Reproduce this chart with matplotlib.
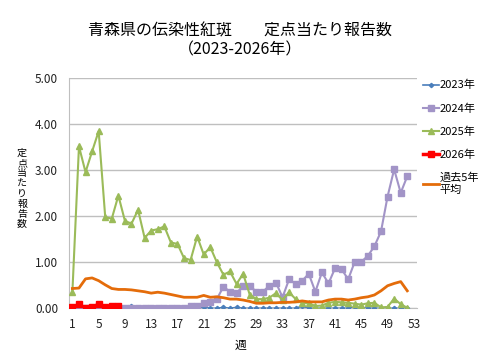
import matplotlib
matplotlib.use("Agg")
import matplotlib.pyplot as plt
import numpy as np

plt.rcParams['font.family'] = ['Noto Sans CJK JP', 'DejaVu Sans']

weeks = list(range(1, 53))

y2023 = [0.00, 0.00, 0.00, 0.00, 0.00, 0.00, 0.00, 0.00, 0.00, 0.05,
         0.00, 0.00, 0.00, 0.00, 0.00, 0.00, 0.00, 0.00, 0.00, 0.00,
         0.02, 0.00, 0.00, 0.02, 0.00, 0.02, 0.00, 0.00, 0.00, 0.00,
         0.00, 0.00, 0.00, 0.00, 0.00, 0.05, 0.00, 0.00, 0.00, 0.00,
         0.00, 0.00, 0.00, 0.02, 0.02, 0.00, 0.00, 0.00, 0.00, 0.00,
         0.00, 0.00]

y2024 = [0.00, 0.00, 0.00, 0.00, 0.00, 0.00, 0.00, 0.00, 0.00, 0.00,
         0.00, 0.00, 0.00, 0.00, 0.00, 0.00, 0.00, 0.00, 0.05, 0.06,
         0.12, 0.14, 0.20, 0.47, 0.36, 0.33, 0.49, 0.49, 0.36, 0.36,
         0.49, 0.56, 0.24, 0.63, 0.53, 0.60, 0.75, 0.36, 0.78, 0.54,
         0.87, 0.85, 0.63, 1.01, 1.01, 1.14, 1.35, 1.67, 2.43, 3.02,
         2.51, 2.87]

y2025 = [0.36, 3.52, 2.96, 3.41, 3.85, 1.98, 1.95, 2.45, 1.90, 1.84,
         2.14, 1.53, 1.69, 1.72, 1.78, 1.43, 1.40, 1.09, 1.05, 1.56,
         1.17, 1.33, 1.00, 0.73, 0.80, 0.53, 0.75, 0.30, 0.20, 0.20,
         0.23, 0.33, 0.18, 0.35, 0.20, 0.12, 0.11, 0.05, 0.06, 0.12,
         0.14, 0.13, 0.12, 0.10, 0.08, 0.11, 0.12, 0.02, 0.03, 0.21,
         0.09, 0.01]

weeks2026 = [1, 2, 3, 4, 5, 6, 7, 8]
y2026 = [0.02, 0.09, 0.00, 0.02, 0.09, 0.02, 0.05, 0.04]

avg5 = [0.43, 0.44, 0.64, 0.66, 0.60, 0.51, 0.43, 0.41, 0.41, 0.40,
        0.38, 0.36, 0.33, 0.35, 0.33, 0.30, 0.27, 0.24, 0.24, 0.24,
        0.28, 0.24, 0.25, 0.23, 0.20, 0.20, 0.18, 0.15, 0.11, 0.11,
        0.12, 0.12, 0.13, 0.13, 0.14, 0.16, 0.14, 0.14, 0.14, 0.18,
        0.20, 0.20, 0.18, 0.20, 0.23, 0.25, 0.29, 0.38, 0.49, 0.54,
        0.58, 0.38]

xticks = list(range(1, 54, 4))
yticks = [0, 1, 2, 3, 4, 5]

fig = plt.figure(figsize=(4.8, 3.6), dpi=100)
ax = fig.add_axes([0.144, 0.1436, 0.725, 0.639])

ax.plot(weeks, y2023, color='#4a7ebb', lw=1.2, marker='D', ms=2.2, label='2023年', zorder=3)
ax.plot(weeks, y2024, color='#a294c7', lw=1.5, marker='s', ms=3.8, label='2024年', zorder=3)
ax.plot(weeks, y2025, color='#9bbb59', lw=1.5, marker='^', ms=3.8, label='2025年', zorder=3)
ax.plot(weeks2026, y2026, color='#ff0000', lw=2.5, marker='s', ms=5, label='2026年', zorder=5)
ax.plot(weeks, avg5, color='#e46c0a', lw=2, label='過去5年\n平均', zorder=4)

ax.set_xlim(0.5, 53.5)
ax.set_ylim(0, 5)
ax.set_xticks(xticks)
ax.set_yticks(yticks)
ax.set_yticklabels([f"{v:.2f}" for v in yticks])
ax.tick_params(axis='both', length=0, labelsize=8.5, colors='#222222')
ax.tick_params(axis='x', pad=7)
ax.tick_params(axis='y', pad=8)
ax.grid(axis='y', color='#bfbfbf', lw=1)
ax.set_axisbelow(True)
for s in ['top', 'right']:
    ax.spines[s].set_visible(False)
ax.spines['left'].set_color('#bfbfbf')
ax.spines['bottom'].set_color('#bfbfbf')

fig.text(0.5, 0.913, '青森県の伝染性紅斑　　定点当たり報告数', ha='center', va='center', fontsize=11.5)
fig.text(0.5, 0.86, '（2023-2026年）', ha='center', va='center', fontsize=11.5)

fig.text(0.046, 0.476, '\n'.join('定点当たり報告数'), ha='center', va='center',
         fontsize=7.2, linespacing=1.02)
fig.text(0.5, 0.042, '週', ha='center', va='center', fontsize=8.5)

leg = ax.legend(loc='upper left', bbox_to_anchor=(0.872, 0.79), bbox_transform=fig.transFigure,
                frameon=False, fontsize=8, handlelength=1.4, handletextpad=0.1,
                labelspacing=1.15, borderaxespad=0)

fig.savefig('out.png', dpi=100)
